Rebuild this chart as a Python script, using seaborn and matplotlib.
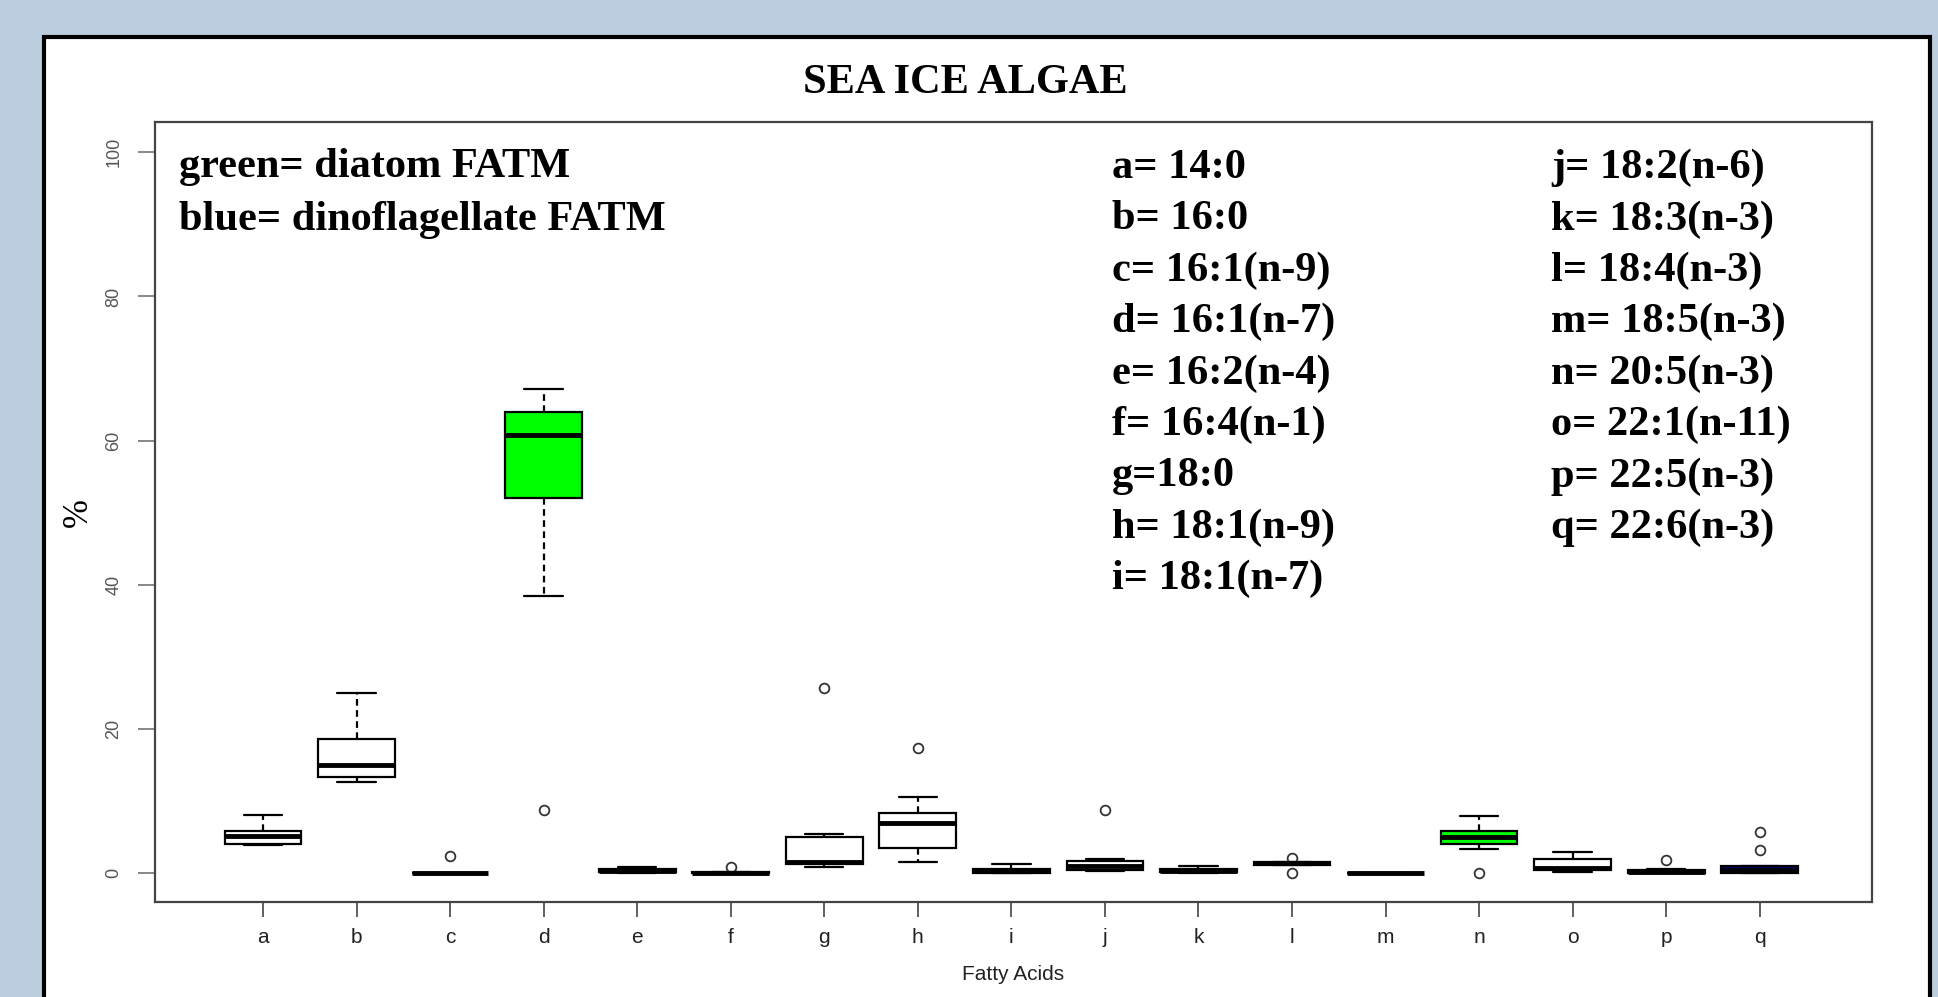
import numpy as np
import pandas as pd
import matplotlib
matplotlib.use("Agg")
import matplotlib.pyplot as plt
import seaborn as sns
from matplotlib.patches import Rectangle

# ---------------- data ----------------
categories = list("abcdefghijklmnopq")

a_vals = [3.9, 4.0, 5.1, 5.8, 8.0]
b_vals = [12.7, 13.4, 15.0, 18.6, 25.0]
c_vals = [0.0, 0.0, 0.0, 0.0, 0.0, 0.0, 0.0, 0.0, 2.4]
d_vals = [8.8, 38.5, 52.1, 55.0, 60.8, 62.0, 64.0, 65.0, 67.2]
e_vals = [0.0, 0.1, 0.3, 0.6, 0.8]
f_vals = [0.0, 0.0, 0.0, 0.0, 0.05, 0.1, 0.1, 0.15, 0.8]
g_vals = [0.8, 1.0, 1.33, 1.45, 1.57, 3.0, 4.95, 5.4, 25.7]
h_vals = [1.6, 2.5, 3.5, 5.0, 7.0, 7.8, 8.3, 10.6, 17.3]
i_vals = [0.0, 0.05, 0.3, 0.55, 1.25]
j_vals = [0.3, 0.4, 0.5, 0.8, 1.0, 1.4, 1.65, 1.96, 8.7]
k_vals = [0.0, 0.1, 0.35, 0.6, 1.0]
l_vals = [0.0, 1.15, 1.2, 1.3, 1.4, 1.45, 1.5, 1.6, 2.05]
m_vals = [0.0, 0.0, 0.0, 0.0, 0.0]
n_vals = [0.0, 3.3, 4.1, 4.6, 5.0, 5.4, 5.8, 6.5, 7.95]
o_vals = [0.2, 0.5, 0.65, 1.9, 3.0]
p_vals = [0.0, 0.0, 0.05, 0.1, 0.2, 0.3, 0.5, 0.55, 1.8]
q_vals = [0.0, 0.02, 0.05, 0.3, 0.5, 0.9, 1.05, 3.2, 5.7]

series = [a_vals, b_vals, c_vals, d_vals, e_vals, f_vals, g_vals, h_vals, i_vals,
          j_vals, k_vals, l_vals, m_vals, n_vals, o_vals, p_vals, q_vals]

box_colors = {c: "white" for c in categories}
box_colors["d"] = "#00ff00"
box_colors["n"] = "#00ff00"
box_colors["q"] = "#000080"

y_ticks = [0, 20, 40, 60, 80, 100]

title = "SEA ICE ALGAE"
notes_left = ["green= diatom FATM", "blue= dinoflagellate FATM"]
codes_col1 = ["a= 14:0", "b= 16:0", "c= 16:1(n-9)", "d= 16:1(n-7)", "e= 16:2(n-4)",
              "f= 16:4(n-1)", "g=18:0", "h= 18:1(n-9)", "i= 18:1(n-7)"]
codes_col2 = ["j= 18:2(n-6)", "k= 18:3(n-3)", "l= 18:4(n-3)", "m= 18:5(n-3)",
              "n= 20:5(n-3)", "o= 22:1(n-11)", "p= 22:5(n-3)", "q= 22:6(n-3)"]

rows = [(c, v) for c, vals in zip(categories, series) for v in vals]
df = pd.DataFrame(rows, columns=["acid", "pct"])

# ---------------- figure ----------------
W, H = 1938, 997
sns.set_theme(style="white")
plt.rcParams["font.family"] = ["Liberation Sans", "DejaVu Sans"]

fig = plt.figure(figsize=(W / 100, H / 100), dpi=100)
fig.patch.set_facecolor("#bccddf")

# white panel with black border
fig.add_artist(Rectangle((44 / W, -0.05), (1930 - 44) / W, 1 - 37 / H + 0.05,
                         transform=fig.transFigure, facecolor="white",
                         edgecolor="black", linewidth=3, zorder=0))

ax = fig.add_axes([154.5 / W, 1 - 902 / H, (1872 - 154.5) / W, (902 - 122) / H])
ax.set_facecolor("white")

sns.boxplot(data=df, x="acid", y="pct", hue="acid", order=categories,
            hue_order=categories, palette=box_colors, saturation=1,
            legend=False, width=0.82, linecolor="black", linewidth=1.6,
            whis=1.5, fliersize=7,
            flierprops=dict(marker="o", markerfacecolor="none",
                            markeredgecolor="#333333", markeredgewidth=1.3),
            whiskerprops=dict(linestyle=(0, (3, 2))),
            medianprops=dict(linewidth=3.5, color="black"),
            ax=ax)

ax.set_xlim(-1.16, 17.2)
ax.set_ylim(-4.0, 104.2)
ax.set_yticks(y_ticks)
ax.set_yticklabels([str(t) for t in y_ticks], rotation=90, va="center",
                   fontsize=13, color="#555555")
ax.tick_params(axis="y", left=True, direction="out", length=12, width=1.4,
               color="#888888", pad=11)
ax.tick_params(axis="x", bottom=True, direction="out", length=11, width=1.2,
               color="#444444", pad=8, labelsize=15, labelcolor="#222222")

for s in ax.spines.values():
    s.set_visible(True)
    s.set_color("#444444")
    s.set_linewidth(1.6)

ax.set_xlabel("Fatty Acids", fontsize=15, color="#222222")
ax.xaxis.label.set_va("center")
ax.xaxis.set_label_coords(0.5, -(974 - 902) / (902 - 122))
ax.set_ylabel("%", fontsize=25, family="Liberation Serif", color="black")
ax.yaxis.label.set_va("center")
ax.yaxis.set_label_coords((78 - 154.5) / (1872 - 154.5), 0.5)

serif_bold = dict(family="Liberation Serif", weight="bold", color="black")
fig.text(965 / W, 1 - 83 / H, title, ha="center", va="center", fontsize=30.5, **serif_bold)

for i, t in enumerate(notes_left):
    fig.text(179 / W, 1 - (167 + 53 * i) / H, t, ha="left", va="center",
             fontsize=30.5, **serif_bold)
for i, t in enumerate(codes_col1):
    fig.text(1112 / W, 1 - (168 + 51.4 * i) / H, t, ha="left", va="center",
             fontsize=30.5, **serif_bold)
for i, t in enumerate(codes_col2):
    fig.text(1551 / W, 1 - (168 + 51.4 * i) / H, t, ha="left", va="center",
             fontsize=30.5, **serif_bold)

fig.savefig("out.png", dpi=100, facecolor=fig.get_facecolor())
